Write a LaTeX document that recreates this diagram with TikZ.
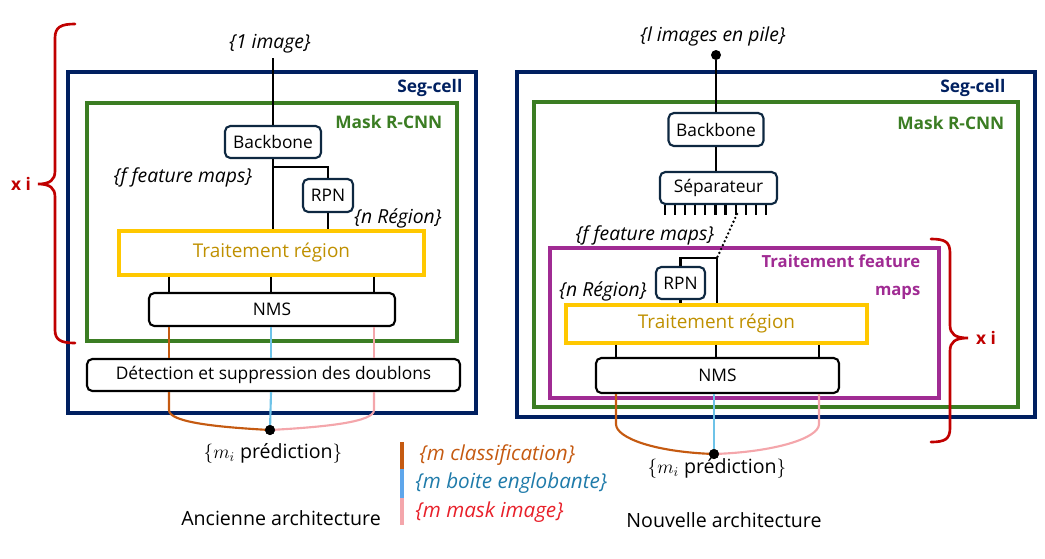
\documentclass[tikz,border=0pt]{standalone}
\usepackage{fontspec}
\setmainfont{Open Sans}
\usetikzlibrary{positioning,calc}
\definecolor{segblue}{HTML}{002060}
\definecolor{maskgreen}{HTML}{3B7D23}
\definecolor{trgold}{HTML}{FFC800}
\definecolor{trtext}{HTML}{BF9000}
\definecolor{darkline}{HTML}{0E2841}
\definecolor{featpurple}{HTML}{A02B93}
\definecolor{bracered}{HTML}{C00000}
\definecolor{clsorange}{HTML}{C55A11}
\definecolor{bbblue}{HTML}{6EC3E8}
\definecolor{bbtext}{HTML}{1F7BAA}
\definecolor{mskpink}{HTML}{F4A6AB}
\definecolor{msktext}{HTML}{E8202A}

\begin{document}
\begin{tikzpicture}[x=0.75pt,y=-0.75pt,
	txt/.style={font=\fontsize{13}{15}\selectfont},
	bigtxt/.style={font=\fontsize{14.7}{17}\selectfont},
	lbl/.style={font=\fontsize{14.5}{17}\selectfont\itshape},
	legendlbl/.style={anchor=west,font=\fontsize{15.5}{18}\selectfont\itshape},
	blockbox/.style={draw=darkline,line width=1.6pt,rounded corners=4pt,inner sep=0pt,txt},
	nmsbox/.style={draw=black,line width=1.6pt,rounded corners=4pt,inner sep=0pt,txt},
	trbox/.style={draw=trgold,line width=2.3pt,text=trtext,inner sep=0pt,font=\fontsize{14.2}{16}\selectfont},
	frame/.style={line width=2.4pt},
	framelbl/.style={anchor=east,font=\fontsize{13}{15}\selectfont\bfseries},
	link/.style={line width=1.6pt},
	cls/.style={line width=1.6pt,draw=clsorange},
	bbx/.style={line width=1.6pt,draw=bbblue},
	msk/.style={line width=1.6pt,draw=mskpink},
	dotnode/.style={circle,fill=black,inner sep=0pt,minimum size=7.5pt},
	bracepath/.style={draw=bracered,line width=2pt,line cap=round},
	timeslbl/.style={text=bracered,font=\fontsize{13}{15}\selectfont\bfseries}]
	\useasboundingbox (0,0) rectangle (1045,558);

	% ancienne architecture
	\draw[frame,segblue] (68,72) rectangle (476,413);
	\draw[frame,maskgreen] (87,103) rectangle (457,341);
	\node[framelbl,text=segblue] (lseg) at (467,88) {Seg-cell};
	\node[framelbl,text=maskgreen] (lmask) at (447,122) {Mask R-CNN};

	\node[lbl] (limg) at (270,44) {\{1 image\}};
	\node[blockbox,minimum width=72pt,minimum height=24pt] (lbb) at (273,142) {Backbone};
	\node[blockbox,minimum width=37.5pt,minimum height=24.75pt] (lrpn) at (328,195.5) {RPN};
	\node[trbox,minimum width=228.75pt,minimum height=33pt] (ltr) at (271.5,253) {Traitement région};
	\node[nmsbox,minimum width=184.5pt,minimum height=24.75pt] (lnms) at (272,309.5) {NMS};
	\node[nmsbox,minimum width=279.75pt,minimum height=24pt] (ldet) at (273.5,375) {Détection et suppression des doublons};
	\node[dotnode] (ldot) at (270,430) {};

	\node[lbl] (lfeat) at (183,177) {\{f feature maps\}};
	\node[lbl] (lreg) at (398,218) {\{n Région\}};
	\node[bigtxt] (lpred) at (273,453) {$\{m_i$ prédiction$\}$};
	\node[bigtxt] (lold) at (281,518) {Ancienne architecture};

	\coordinate (la) at (169,0);
	\coordinate (lb) at (271,0);
	\coordinate (lc) at (374,0);

	\draw[link] (limg.south -| lbb.north) -- (lbb.north);
	\draw[link] (lbb.south) -- (lbb.south |- ltr.north);
	\draw[link] ($(lbb.south)+(0,8)$) -| (lrpn.north);
	\draw[link] (lrpn.south) -- (lrpn.south |- ltr.north);
	\draw[link] (ltr.south -| la) -- (lnms.north -| la);
	\draw[link] (ltr.south -| lb) -- (lnms.north -| lb);
	\draw[link] (ltr.south -| lc) -- (lnms.north -| lc);
	\draw[cls] (lnms.south -| la) -- (ldet.north -| la);
	\draw[bbx] (lnms.south -| lb) -- (ldet.north -| lb);
	\draw[msk] (lnms.south -| lc) -- (ldet.north -| lc);
	\draw[cls] (ldet.south -| la) -- ++(0,18) .. controls +(0,12) and (215,427) .. (ldot.center);
	\draw[bbx] (ldet.south -| lb) -- (ldot.center);
	\draw[msk] (ldet.south -| lc) -- ++(0,18) .. controls +(0,12) and (325,427) .. (ldot.center);
	\node[dotnode] at (ldot) {};

	\draw[bracepath] (75,24) .. controls (61,24) and (55,27) .. (55,38) -- (55,171) .. controls (55,180) and (50,184) .. (38,184)
		.. controls (50,184) and (55,188) .. (55,197) -- (55,330) .. controls (55,340) and (61,343) .. (75,343);
	\node[timeslbl] (lxi) at (21,184) {x i};

	% legende
	\draw[line width=2.3pt,clsorange] (402,442) -- (402,469);
	\draw[line width=2.3pt,bbblue!85!blue] (402,469) -- (402,498);
	\draw[line width=2.3pt,mskpink] (402,498) -- (402,525);
	\node[legendlbl,text=clsorange] (lgcls) at (415,455) {\{m classification\}};
	\node[legendlbl,text=bbtext] (lgbb) at (411,483) {\{m boite englobante\}};
	\node[legendlbl,text=msktext] (lgmsk) at (411,512) {\{m mask image\}};

	% nouvelle architecture
	\draw[frame,segblue] (517,72) rectangle (1035,417);
	\draw[frame,maskgreen] (534,102) rectangle (1018,407);
	\draw[frame,featpurple] (550,248) rectangle (939,398);
	\node[framelbl,text=segblue] (rseg) at (1010,88) {Seg-cell};
	\node[framelbl,text=maskgreen] (rmask) at (1009,123) {Mask R-CNN};
	\node[framelbl,text=featpurple,align=right,font=\fontsize{12.5}{21}\selectfont\bfseries] (rfeatbox) at (925,277) {Traitement feature\\maps};

	\node[lbl] (rimg) at (713,36) {\{l images en pile\}};
	\node[dotnode] (rtop) at (716,55) {};
	\node[blockbox,minimum width=71.25pt,minimum height=24.75pt] (rbb) at (716,129.5) {Backbone};
	\node[blockbox,minimum width=87.75pt,minimum height=24pt] (rsep) at (718.5,188) {Séparateur};
	\node[blockbox,minimum width=36.75pt,minimum height=24pt] (rrpn) at (680.5,283) {RPN};
	\node[trbox,minimum width=225.75pt,minimum height=28.5pt] (rtr) at (716.5,324) {Traitement région};
	\node[nmsbox,minimum width=182.25pt,minimum height=26.25pt] (rnms) at (717.5,375.5) {NMS};
	\node[dotnode] (rdot) at (714,454) {};

	\node[lbl] (rfeat) at (645,235) {\{f feature maps\}};
	\node[lbl] (rreg) at (603,291) {\{n Région\}};
	\node[bigtxt] (rpred) at (717,468) {$\{m_i$ prédiction$\}$};
	\node[bigtxt] (rnew) at (724,520) {Nouvelle architecture};

	\coordinate (ra) at (616,0);
	\coordinate (rb) at (716,0);
	\coordinate (rc) at (819,0);
	\coordinate (rfm) at (717,258);
	\coordinate (rtick) at (737,214);

	\draw[link] (rtop) -- (rbb.north -| rtop);
	\draw[link] (rbb.south -| rtop) -- (rsep.north -| rtop);
	\foreach \i in {0,...,10}
		\draw[link] ($(rsep.south west)+(6+10.1*\i,0)$) -- ++(0,10);
	\draw[line width=2pt,line cap=round,dash pattern=on 0pt off 3.2pt] (rtick) -- (rfm);
	\draw[link] (rfm) -- (rtr.north -| rfm);
	\draw[link] (rfm) -| (rrpn.north);
	\draw[link] (rrpn.south) -- (rrpn.south |- rtr.north);
	\draw[link] (rtr.south -| ra) -- (rnms.north -| ra);
	\draw[link] (rtr.south -| rb) -- (rnms.north -| rb);
	\draw[link] (rtr.south -| rc) -- (rnms.north -| rc);
	\draw[cls] (rnms.south -| ra) -- ++(0,30) .. controls +(0,14) and (655,452) .. (rdot.center);
	\draw[bbx] (rnms.south -| rdot) -- (rdot.center);
	\draw[msk] (rnms.south -| rc) -- ++(0,30) .. controls +(0,14) and (775,452) .. (rdot.center);
	\node[dotnode] at (rdot) {};

	\draw[bracepath] (931,239) .. controls (945,239) and (950,242) .. (950,253) -- (950,325) .. controls (950,334) and (955,338) .. (968,338)
		.. controls (955,338) and (950,342) .. (950,351) -- (950,428) .. controls (950,439) and (945,442) .. (931,442);
	\node[timeslbl] (rxi) at (986,338) {x i};
\end{tikzpicture}
\end{document}
